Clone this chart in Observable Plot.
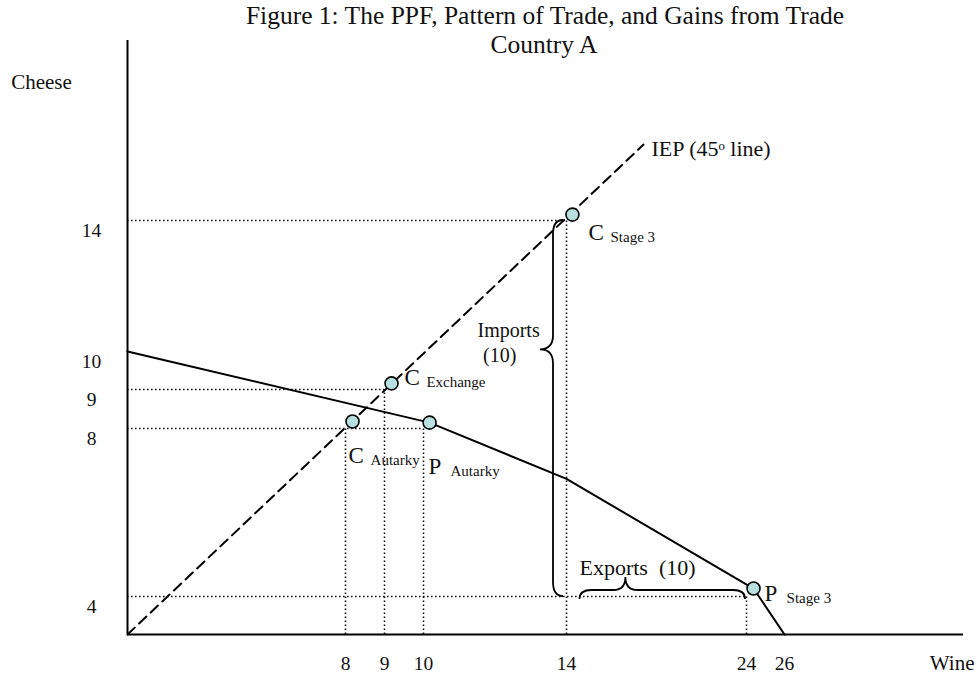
<!DOCTYPE html>
<html><head><meta charset="utf-8">
<script src="https://cdn.jsdelivr.net/npm/d3@7"></script>
<script src="https://cdn.jsdelivr.net/npm/@observablehq/plot@0.6"></script>
<style>body{margin:0;background:#fff} #chart svg{display:block}</style>
</head><body><div id="chart"></div>
<script>
// ---- data ----
const titleLines = ["Figure 1: The PPF, Pattern of Trade, and Gains from Trade", "Country A"];
const xLabel = "Wine";
const yLabel = "Cheese";
const xTicks = [8, 9, 10, 14, 24, 26];
const yTicks = [4, 8, 9, 10, 14];
const xBreaks = [0, 8, 9, 10, 14, 24, 26, 35];
const yBreaks = [0, 4, 8, 9, 10, 14, 19.5];
const ppf = [
  {wine: 0, cheese: 10}, {wine: 10.17, cheese: 8.15}, {wine: 14, cheese: 6.8},
  {wine: 24.37, cheese: 4.19}, {wine: 26, cheese: 0}
];
const iep = [{wine: 0, cheese: 0}, {wine: 18.28, cheese: 16.32}];
const points = [
  {main: "C", sub: "Autarky", wine: 8.18, cheese: 8.18},
  {main: "C", sub: "Exchange", wine: 9.18, cheese: 9.16},
  {main: "P", sub: "Autarky", wine: 10.17, cheese: 8.15},
  {main: "C", sub: "Stage 3", wine: 14.33, cheese: 14.18},
  {main: "P", sub: "Stage 3", wine: 24.37, cheese: 4.19}
];
const pointLabelAt = [
  {wine: 8.08, cheese: 7.36}, {wine: 9.51, cheese: 9.32}, {wine: 10.14, cheese: 7.10},
  {wine: 15.22, cheese: 13.63}, {wine: 24.95, cheese: 4.07}
];
const hGuides = [{cheese: 14, wine: 14}, {cheese: 9, wine: 9}, {cheese: 8, wine: 10}, {cheese: 4, wine: 24}];
const vGuides = [{wine: 8, cheese: 8}, {wine: 9, cheese: 9}, {wine: 10, cheese: 8}, {wine: 14, cheese: 14}, {wine: 24, cheese: 4}];
const startNotes = [
  {text: "IEP (45\u1D52 line)", wine: 18.72, cheese: 16.2},
  {text: "Exports\u00A0\u00A0(10)", wine: 14.72, cheese: 4.67}
];
const middleNotes = [
  {text: "Imports", wine: 12.38, cheese: 10.64},
  {text: "(10)", wine: 12.13, cheese: 9.9}
];
const braces = [
  {orient: "v", at: 14, from: 14, to: 4, tip: 10.05},
  {orient: "h", at: 4, from: 14.75, to: 24, tip: 17.3}
];

// ---- chart ----
const font = "Liberation Serif, Times New Roman, serif";
const W = 977, H = 687;
const plot = Plot.plot({
  width: W, height: H,
  marginLeft: 0, marginRight: 0, marginTop: 0, marginBottom: 0,
  style: {fontFamily: font, background: "#fff", color: "#111"},
  x: {type: "linear", domain: xBreaks, range: [127, 345, 384, 423, 566, 746, 784, 963], axis: null},
  y: {type: "linear", domain: yBreaks, range: [634, 596, 428, 389, 351, 220, 40], axis: null},
  marks: [
    // titles & axis names
    Plot.text([titleLines[0]], {frameAnchor: "top", dx: 56, dy: 5, fontSize: 25.5, lineAnchor: "top", fill: "#111"}),
    Plot.text([titleLines[1]], {frameAnchor: "top", dx: 55, dy: 34, fontSize: 25.5, lineAnchor: "top", fill: "#111"}),
    Plot.text([yLabel], {frameAnchor: "top-left", dx: 41, dy: 82, fontSize: 21, textAnchor: "middle", lineAnchor: "middle", fill: "#111"}),
    Plot.text([xLabel], {frameAnchor: "bottom-right", dx: -3, dy: -24, fontSize: 21, textAnchor: "end", lineAnchor: "middle", fill: "#111"}),
    // dotted guides
    Plot.ruleY(hGuides, {y: "cheese", x1: 0, x2: "wine", stroke: "#111", strokeWidth: 1.6, strokeDasharray: "1.6 2.4"}),
    Plot.ruleX(vGuides, {x: "wine", y1: 0, y2: "cheese", stroke: "#111", strokeWidth: 1.6, strokeDasharray: "1.6 2.4"}),
    // axes
    Plot.ruleY([0], {x1: 0, x2: 35, stroke: "#000", strokeWidth: 2}),
    Plot.ruleX([0], {y1: 0, y2: 19.5, stroke: "#000", strokeWidth: 2}),
    // tick labels
    Plot.text(xTicks, {x: d => d, y: 0, dy: 29, fontSize: 19.5, fill: "#111", lineAnchor: "middle"}),
    Plot.text(yTicks, {x: 0, y: d => d, dx: -36, dy: 10, fontSize: 19.5, fill: "#111", lineAnchor: "middle"}),
    // IEP and PPF
    Plot.line(iep, {x: "wine", y: "cheese", stroke: "#000", strokeWidth: 2, strokeDasharray: "10 6"}),
    Plot.line(ppf, {x: "wine", y: "cheese", stroke: "#000", strokeWidth: 2}),
    // points
    Plot.dot(points, {x: "wine", y: "cheese", r: 6.5, fill: "#b8e0e0", stroke: "#000", strokeWidth: 1.6}),
    Plot.text(points, {x: (d, i) => pointLabelAt[i].wine, y: (d, i) => pointLabelAt[i].cheese, text: "main", textAnchor: "start", lineAnchor: "middle", fontSize: 23, fill: "#111"}),
    Plot.text(points, {x: (d, i) => pointLabelAt[i].wine, y: (d, i) => pointLabelAt[i].cheese, text: "sub", dx: 22, dy: 5, textAnchor: "start", lineAnchor: "middle", fontSize: 15, fill: "#111"}),
    // notes
    Plot.text(startNotes, {x: "wine", y: "cheese", text: "text", textAnchor: "start", lineAnchor: "middle", fontSize: 22, fill: "#111"}),
    Plot.text(middleNotes, {x: "wine", y: "cheese", text: "text", textAnchor: "middle", lineAnchor: "middle", fontSize: 20, fill: "#111"})
  ]
});

// braces drawn with the plot's own scales
const sx = plot.scale("x"), sy = plot.scale("y");
const svg = d3.select(plot);
for (const b of braces) {
  let d;
  if (b.orient === "v") {
    const x0 = sx.apply(b.at) - 3, x1 = x0 - 10, xt = x0 - 23;
    const ya = sy.apply(b.from), yb = sy.apply(b.to), ym = sy.apply(b.tip), r = 14;
    d = `M${x0},${ya} Q${x1},${ya} ${x1},${ya + r} L${x1},${ym - r} Q${x1},${ym} ${xt},${ym} Q${x1},${ym} ${x1},${ym + r} L${x1},${yb - r} Q${x1},${yb} ${x0},${yb}`;
  } else {
    const y0 = sy.apply(b.at) + 3, y1 = y0 - 9, yt = y0 - 22;
    const xa = sx.apply(b.from), xb = sx.apply(b.to) - 1, xm = sx.apply(b.tip), r = 12;
    d = `M${xa},${y0} Q${xa},${y1} ${xa + r},${y1} L${xm - r},${y1} Q${xm},${y1} ${xm},${yt} Q${xm},${y1} ${xm + r},${y1} L${xb - r},${y1} Q${xb},${y1} ${xb},${y0}`;
  }
  svg.append("path").attr("d", d).attr("fill", "none").attr("stroke", "#000").attr("stroke-width", 1.8);
}
document.getElementById("chart").appendChild(plot);
</script>
</body></html>
